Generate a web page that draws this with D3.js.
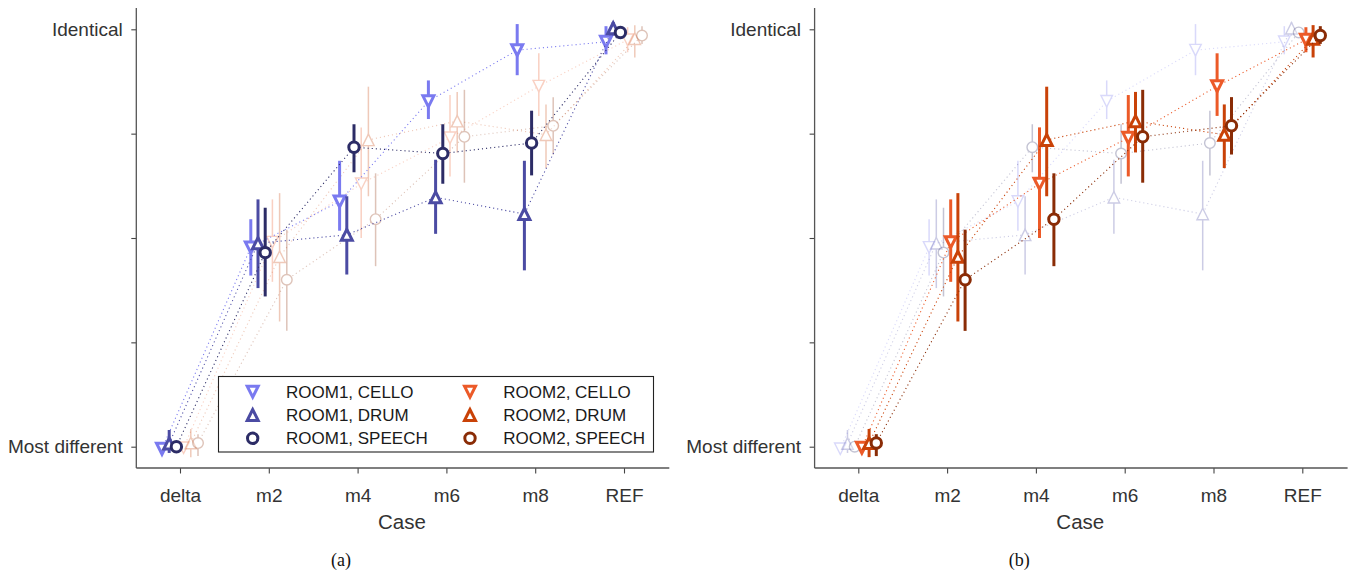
<!DOCTYPE html>
<html>
<head>
<meta charset="utf-8">
<script src="https://cdn.jsdelivr.net/npm/d3@7"></script>
<style>
    body { margin: 0; background: #fff; }
    svg text { font-family: "Liberation Sans", Arial, Helvetica, sans-serif; }
</style>
</head>
<body>
<div id="chart"></div>
<script>
// Categories on the x axis
const cases = ["delta", "m2", "m4", "m6", "m8", "REF"];

// Series definitions
const seriesNames = ["ROOM1, CELLO", "ROOM1, DRUM", "ROOM1, SPEECH", "ROOM2, CELLO", "ROOM2, DRUM", "ROOM2, SPEECH"];
const seriesRoom = [1, 1, 1, 2, 2, 2];
const seriesShape = ["down", "up", "circle", "down", "up", "circle"];
const seriesColors = ["#7a7af0", "#4b4ba3", "#2c2c66", "#ec5a28", "#c94208", "#8a2c06"];

// Mean ratings (1 = most different, 5 = identical)
const room1Cello  = [0.98, 2.91, 3.35, 4.31, 4.80, 4.88];
const room1Drum   = [1.03, 2.95, 3.03, 3.39, 3.23, 5.01];
const room1Speech = [1.00, 2.86, 3.87, 3.81, 3.91, 4.97];
const room2Cello  = [0.99, 2.96, 3.52, 3.96, 4.455, 4.90];
const room2Drum   = [1.035, 2.82, 3.94, 4.12, 3.99, 4.91];
const room2Speech = [1.035, 2.60, 3.18, 3.97, 4.075, 4.94];

// Error bar bounds
const room1CelloLo  = [0.96, 2.64, 3.07, 4.14, 4.56, 4.76];
const room1CelloHi  = [1.00, 3.18, 3.74, 4.51, 5.05, 5.03];
const room1DrumLo   = [0.94, 2.52, 2.65, 3.04, 2.69, 4.94];
const room1DrumHi   = [1.16, 3.37, 3.40, 3.75, 3.74, 5.07];
const room1SpeechLo = [0.97, 2.44, 3.63, 3.52, 3.60, 4.93];
const room1SpeechHi = [1.03, 3.29, 4.09, 4.09, 4.22, 5.01];
const room2CelloLo  = [0.95, 2.58, 3.00, 3.59, 4.17, 4.78];
const room2CelloHi  = [1.04, 3.37, 4.06, 4.37, 4.77, 5.02];
const room2DrumLo   = [0.90, 2.20, 3.40, 3.82, 3.67, 4.73];
const room2DrumHi   = [1.17, 3.43, 4.45, 4.40, 4.28, 5.04];
const room2SpeechLo = [0.91, 2.11, 2.73, 3.53, 3.80, 4.86];
const room2SpeechHi = [1.12, 3.08, 3.62, 4.42, 4.35, 5.03];

const seriesMeans = [room1Cello, room1Drum, room1Speech, room2Cello, room2Drum, room2Speech];
const seriesLo = [room1CelloLo, room1DrumLo, room1SpeechLo, room2CelloLo, room2DrumLo, room2SpeechLo];
const seriesHi = [room1CelloHi, room1DrumHi, room1SpeechHi, room2CelloHi, room2DrumHi, room2SpeechHi];

const yTickValues = [1, 2, 3, 4, 5];
const yTickLabels = { 1: "Most different", 5: "Identical" };

const svg = d3.select("#chart").append("svg")
    .attr("width", 1351)
    .attr("height", 578);

// Marker path helper (matplotlib style triangles, bbox centred)
function markerPath(shape, s) {
    const h = s / 2;
    if (shape === "up") return `M0,${-h}L${-h},${h}L${h},${h}Z`;
    if (shape === "down") return `M0,${h}L${-h},${-h}L${h},${-h}Z`;
    return null;
}

function drawMarker(sel, shape, color, bold) {
    if (shape === "circle") {
        return sel.append("circle")
            .attr("r", bold ? 5.2 : 5.3)
            .attr("fill", "#fff")
            .attr("stroke", color)
            .attr("stroke-width", bold ? 3 : 1.4);
    }
    return sel.append("path")
        .attr("d", markerPath(shape, bold ? 11 : 11.5))
        .attr("fill", "#fff")
        .attr("stroke", color)
        .attr("stroke-width", bold ? 3 : 1.4)
        .attr("stroke-linejoin", "miter");
}

function drawPanel(x0, focusRoom, caption, withLegend) {
    const g = svg.append("g").attr("transform", "translate(" + x0 + ",0)");

    const x = d3.scalePoint().domain(cases).range([43.7, 487.7]);
    const y = d3.scaleLinear().domain([1, 5]).range([446.7, 29.3]);
    const step = 7.2;

    // Axes
    const yAxis = d3.axisLeft(y)
        .tickValues(yTickValues)
        .tickSize(5)
        .tickPadding(8.6)
        .tickFormat(d => yTickLabels[d] || "");
    const xAxis = d3.axisBottom(x)
        .tickSize(5.5)
        .tickPadding(14.7);

    const ya = g.append("g").call(yAxis);
    ya.select(".domain").remove();
    ya.selectAll("line").attr("stroke", "#444").attr("stroke-width", 1.1);
    ya.selectAll("text").attr("font-size", 19).attr("fill", "#333");

    const xa = g.append("g").attr("transform", "translate(0,468)").call(xAxis);
    xa.select(".domain").remove();
    xa.selectAll("line").attr("stroke", "#444").attr("stroke-width", 1.1);
    xa.selectAll("text").attr("font-size", 19).attr("fill", "#333");

    g.append("line").attr("x1", 0).attr("x2", 0).attr("y1", 8).attr("y2", 468)
        .attr("stroke", "#555").attr("stroke-width", 1.3);
    g.append("line").attr("x1", 0).attr("x2", 533).attr("y1", 468).attr("y2", 468)
        .attr("stroke", "#555").attr("stroke-width", 1.3);

    // Axis label
    g.append("text")
        .attr("x", (x.range()[0] + x.range()[1]) / 2)
        .attr("y", 529)
        .attr("text-anchor", "middle")
        .attr("font-size", 20.5)
        .attr("fill", "#333")
        .text("Case");

    // Faded series first, then focus series on top
    const order = d3.range(6).filter(i => seriesRoom[i] !== focusRoom)
        .concat(d3.range(6).filter(i => seriesRoom[i] === focusRoom));

    order.forEach(i => {
        const bold = seriesRoom[i] === focusRoom;
        const color = seriesColors[i];
        const off = (i - 2.5) * step;
        const sg = g.append("g").attr("opacity", bold ? 1 : 0.28);
        const px = c => x(c) + off;

        const line = d3.line()
            .x((d, j) => px(cases[j]))
            .y(d => y(d));
        sg.append("path")
            .datum(seriesMeans[i])
            .attr("d", line)
            .attr("fill", "none")
            .attr("stroke", color)
            .attr("stroke-width", 1.1)
            .attr("stroke-dasharray", "1.1,3");

        sg.selectAll(".err")
            .data(cases)
            .enter().append("line")
            .attr("x1", c => px(c))
            .attr("x2", c => px(c))
            .attr("y1", (c, j) => y(seriesLo[i][j]))
            .attr("y2", (c, j) => y(seriesHi[i][j]))
            .attr("stroke", color)
            .attr("stroke-width", bold ? 3 : 1.5);

        cases.forEach((c, j) => {
            const mg = sg.append("g")
                .attr("transform", "translate(" + px(c) + "," + y(seriesMeans[i][j]) + ")");
            drawMarker(mg, seriesShape[i], color, bold);
        });
    });

    // Caption
    svg.append("text")
        .attr("x", x0 + 204.7)
        .attr("y", 566)
        .attr("text-anchor", "middle")
        .style("font-family", "'Liberation Serif', 'Times New Roman', serif")
        .attr("font-size", 18)
        .attr("fill", "#111")
        .text(caption);

    if (withLegend) {
        const lg = svg.append("g");
        lg.append("rect")
            .attr("x", 218.5).attr("y", 376.5)
            .attr("width", 435).attr("height", 75.5)
            .attr("fill", "#fff")
            .attr("stroke", "#222")
            .attr("stroke-width", 1.1);
        seriesNames.forEach((name, i) => {
            const col = Math.floor(i / 3);
            const row = i % 3;
            const ry = 391.7 + row * 23.3;
            const mx = col === 0 ? 252.7 : 470;
            const tx = col === 0 ? 286 : 503.3;
            const mg = lg.append("g").attr("transform", "translate(" + mx + "," + ry + ")");
            drawMarker(mg, seriesShape[i], seriesColors[i], true);
            lg.append("text")
                .attr("x", tx)
                .attr("y", ry)
                .attr("dy", "0.35em")
                .attr("font-size", 17)
                .attr("fill", "#1a1a1a")
                .text(name);
        });
    }
}

drawPanel(136.3, 1, "(a)", true);
drawPanel(814.6, 2, "(b)", false);
</script>
</body>
</html>
